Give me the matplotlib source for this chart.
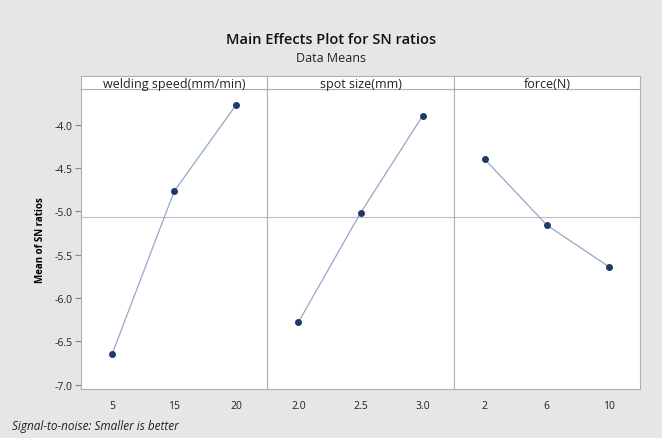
import numpy as np
import matplotlib.pyplot as plt

# factor names and levels
factors = ["welding speed(mm/min)", "spot size(mm)", "force(N)"]
levels = [["5", "15", "20"], ["2.0", "2.5", "3.0"], ["2", "6", "10"]]

# mean SN ratio per level
sn_speed = [-6.65, -4.77, -3.77]
sn_spot = [-6.28, -5.02, -3.90]
sn_force = [-4.40, -5.16, -5.64]
sn_means = [sn_speed, sn_spot, sn_force]

grand_mean = np.mean(sn_speed + sn_spot + sn_force)

plt.rcParams['font.family'] = ['Open Sans', 'DejaVu Sans']

fig = plt.figure(figsize=(6.62, 4.39), dpi=100, facecolor='#e6e6e6')

left, right = 81 / 662, 640 / 662
bottom, top = 1 - 390 / 439, 1 - 90 / 439
strip_h = 13 / 439
w = (right - left) / 3

for i in range(3):
    ax = fig.add_axes([left + i * w, bottom, w, top - bottom])
    ax.set_facecolor('white')
    x = np.arange(1, 4)
    ax.axhline(grand_mean, color='#bdbdbd', lw=0.8, zorder=1)
    ax.plot(x, sn_means[i], color='#93a8c8', lw=0.9, zorder=2)
    ax.plot(x, sn_means[i], 'o', color='#1f3a66', ms=4, zorder=3)
    ax.set_xlim(0.5, 3.5)
    ax.set_ylim(-7.05, -3.59)
    ax.set_xticks(x)
    ax.set_xticklabels(levels[i], fontsize=7.5, color='#222222')
    ax.tick_params(axis='x', length=0, pad=8)
    if i == 0:
        ax.set_yticks([-4.0, -4.5, -5.0, -5.5, -6.0, -6.5, -7.0])
        ax.set_yticklabels(['-4.0', '-4.5', '-5.0', '-5.5', '-6.0', '-6.5', '-7.0'],
                           fontsize=7.5, color='#222222')
        ax.tick_params(axis='y', length=4, color='#888888', pad=2)
        ax.set_ylabel("Mean of SN ratios", fontsize=7, fontweight='bold', labelpad=6)
    else:
        ax.set_yticks([])
    for s in ax.spines.values():
        s.set_color('#b0b0b0')
        s.set_linewidth(0.8)

    # strip header
    sx = fig.add_axes([left + i * w, top, w, strip_h])
    sx.set_facecolor('white')
    sx.set_xticks([])
    sx.set_yticks([])
    for s in sx.spines.values():
        s.set_color('#b0b0b0')
        s.set_linewidth(0.8)
    sx.text(0.5, 0.45, factors[i], ha='center', va='center', fontsize=9,
            color='#222222', transform=sx.transAxes)

fig.text(0.5, 1 - 40 / 439, "Main Effects Plot for SN ratios", ha='center', va='center',
         fontsize=10.5, fontweight='semibold', color='#111111')
fig.text(0.5, 1 - 58 / 439, "Data Means", ha='center', va='center', fontsize=9,
         color='#222222')
fig.text(12 / 662, 1 - 427 / 439, "Signal-to-noise: Smaller is better", ha='left',
         va='center', fontsize=8.5, style='italic', color='#222222')

fig.savefig("out.png", dpi=100, facecolor=fig.get_facecolor())
